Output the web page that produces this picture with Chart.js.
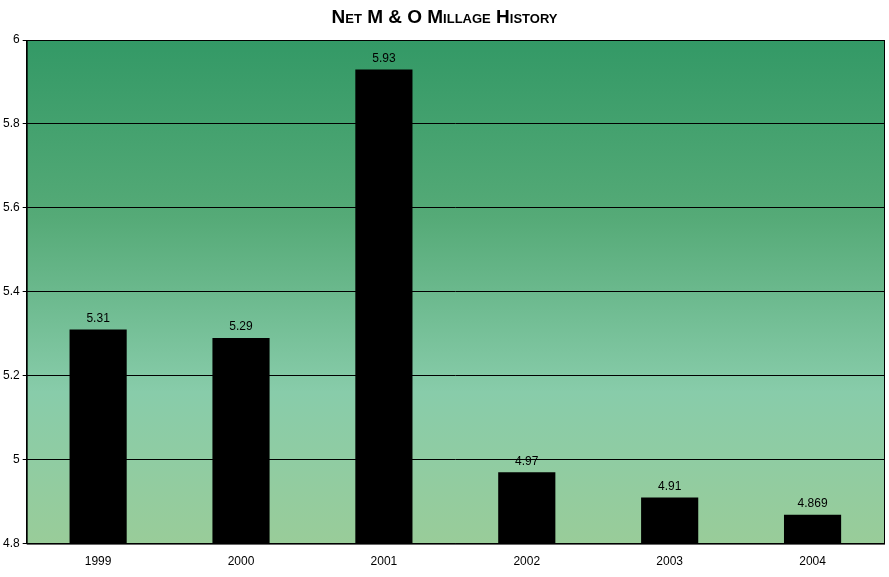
<!DOCTYPE html>
<html><head><meta charset="utf-8">
<script src="https://cdn.jsdelivr.net/npm/chart.js@4/dist/chart.umd.min.js"></script>
<style>html,body{margin:0;padding:0;background:#fff}#w{width:889px;height:577px;position:relative}
#t{position:absolute;left:0;top:6px;width:889px;text-align:center;font:bold 19px "Liberation Sans",Arial,sans-serif;font-variant:small-caps;color:#000}</style>
</head><body><div id="w"><div id="t">Net M &amp; O Millage History</div><canvas id="c" width="889" height="577"></canvas></div>
<script>
const categories=["1999","2000","2001","2002","2003","2004"];
const values=[5.31,5.29,5.93,4.97,4.91,4.869];
const labels=["5.31","5.29","5.93","4.97","4.91","4.869"];
const bg={id:'bg',beforeDraw(ch){const a=ch.chartArea,x=ch.ctx;const g=x.createLinearGradient(0,a.top,0,a.bottom);
g.addColorStop(0,'#339966');g.addColorStop(0.35,'#55aa77');g.addColorStop(0.7,'#88ccaa');g.addColorStop(1,'#99cc99');
x.save();x.fillStyle=g;x.fillRect(a.left,a.top,a.right-a.left,a.bottom-a.top);x.restore();},
afterDatasetsDraw(ch){const x=ch.ctx,m=ch.getDatasetMeta(0);x.save();x.font='12px "Liberation Sans",Arial';x.fillStyle='#000';x.textAlign='center';x.textBaseline='bottom';
m.data.forEach((b,i)=>x.fillText(labels[i],b.x,b.y-5));x.restore();},
afterDraw(ch){const a=ch.chartArea,x=ch.ctx;x.save();x.strokeStyle='#000';x.lineWidth=1;x.strokeRect(a.left+0.5,a.top+0.5,a.right-a.left,a.bottom-a.top);x.restore();}};
new Chart(document.getElementById('c'),{type:'bar',data:{labels:categories,datasets:[{data:values,backgroundColor:'#000',barPercentage:0.4,categoryPercentage:1}]},
options:{responsive:false,animation:false,layout:{padding:{top:40,right:5,left:0,bottom:5}},plugins:{legend:{display:false},tooltip:{enabled:false}},
scales:{x:{grid:{display:false},border:{color:'#000'},ticks:{color:'#000',font:{size:12,family:'"Liberation Sans",Arial'}}},
y:{min:4.8,max:6,ticks:{stepSize:0.2,color:'#000',font:{size:12,family:'"Liberation Sans",Arial'},callback:v=>String(Math.round(v*10)/10)},grid:{color:'#000',drawTicks:true,tickLength:4},border:{color:'#000'}}}},
plugins:[bg]});
</script></body></html>
